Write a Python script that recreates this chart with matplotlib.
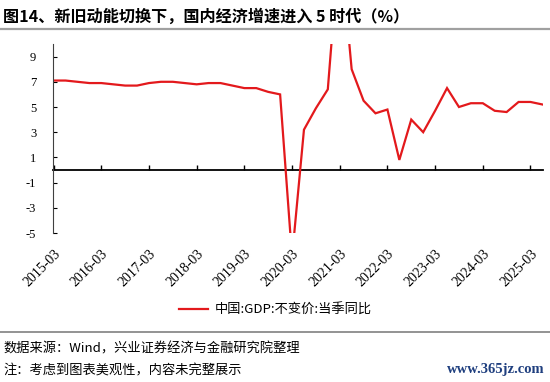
#!/usr/bin/env python3
"""China quarterly real GDP growth, 2015Q1 - 2025Q2."""
import matplotlib
matplotlib.use("Agg")
import matplotlib.pyplot as plt
from matplotlib.lines import Line2D

quarters = [f"{y}-{m:02d}" for y in range(2015, 2026) for m in (3, 6, 9, 12)][:42]
gdp_yoy = [
    7.1, 7.1, 7.0, 6.9,
    6.9, 6.8, 6.7, 6.7,
    6.9, 7.0, 7.0, 6.9,
    6.8, 6.9, 6.9, 6.7,
    6.5, 6.5, 6.2, 6.0,
    -6.9, 3.2, 4.9, 6.4,
    18.3, 8.0, 5.5, 4.5,
    4.8, 0.8, 4.0, 3.0,
    4.7, 6.5, 5.0, 5.3,
    5.3, 4.7, 4.6, 5.4,
    5.4, 5.2,
]
tick_labels = [q for q in quarters if q.endswith("-03")]
y_ticks = [-5, -3, -1, 1, 3, 5, 7, 9]

CJK = ["Noto Sans CJK SC", "DejaVu Sans"]
SERIF = "Liberation Serif"
RED = "#e3191c"
plt.rcParams["font.family"] = [SERIF, "DejaVu Sans"]

fig = plt.figure(figsize=(5.5, 3.82), dpi=100)
ax = fig.add_axes([53 / 550, 1 - 233 / 382, 490 / 550, 189 / 382])

x = list(range(len(gdp_yoy)))
line, = ax.plot(x, gdp_yoy, color=RED, linewidth=1.6, solid_joinstyle="miter")
ax.set_ylim(-5, 10)
ax.set_xlim(-0.05, len(x) - 0.95)

ax.set_yticks(y_ticks)
ax.set_yticklabels([str(v) for v in y_ticks], fontsize=9)
ax.tick_params(axis="y", direction="in", length=3, width=0.8, pad=12)

for side in ("top", "right", "bottom"):
    ax.spines[side].set_visible(False)
ax.spines["left"].set_linewidth(0.8)
ax.spines["left"].set_color("#404040")

# x tick labels at the bottom, tick marks on the zero line
tick_pos = [quarters.index(t) for t in tick_labels]
ax.set_xticks(tick_pos)
ax.set_xticklabels(tick_labels, rotation=45, ha="right", rotation_mode="anchor",
                   fontsize=10)
ax.tick_params(axis="x", length=0, pad=10)

zero_axis = ax.secondary_xaxis(1 / 3)
zero_axis.set_xticks(tick_pos)
zero_axis.set_xticklabels([])
zero_axis.tick_params(axis="x", direction="in", length=3.5, width=1.0)
zero_axis.spines["bottom"].set_linewidth(1.3)

# title and rules
fig.text(3 / 550, 1 - 17 / 382, "图14、新旧动能切换下，国内经济增速进入 5 时代（%）",
         fontfamily=CJK, fontweight="bold", fontsize=11.6, va="center", ha="left")
fig.add_artist(Line2D([0, 1], [1 - 28.5 / 382] * 2, color="#a0a0a0", linewidth=1.6))
fig.add_artist(Line2D([0, 1], [1 - 332 / 382] * 2, color="#808080", linewidth=1.2))

fig.legend([line], ["中国:GDP:不变价:当季同比"], loc="center",
           bbox_to_anchor=(275 / 550, 1 - 310 / 382), frameon=False,
           prop={"family": CJK, "size": 9.5}, handlelength=2.2, handletextpad=0.5)

fig.text(3 / 550, 1 - 349 / 382, "数据来源：Wind，兴业证券经济与金融研究院整理",
         fontfamily=CJK, fontsize=9.5, va="center", ha="left")
fig.text(3 / 550, 1 - 371 / 382, "注：考虑到图表美观性，内容未完整展示",
         fontfamily=CJK, fontsize=9.5, va="center", ha="left")
fig.text(545 / 550, 1 - 370 / 382, "www.365jz.com", fontfamily=SERIF,
         fontweight="bold", fontsize=10.5, color="#1f3f7f", va="center", ha="right")

fig.savefig("out.png", dpi=100)
